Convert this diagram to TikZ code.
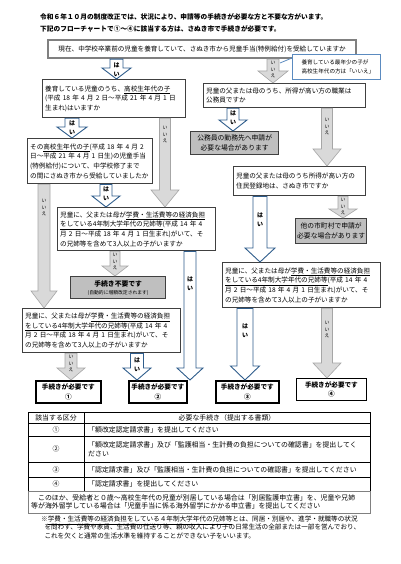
\documentclass[tikz,border=0pt]{standalone}
\usepackage{fontspec}
\setmainfont{Noto Sans CJK JP}
\usetikzlibrary{calc}
\definecolor{bluel}{HTML}{2F5D8C}
\definecolor{grayf}{HTML}{D9D9D9}
\definecolor{grayd}{HTML}{A6A6A6}
\definecolor{boxf}{HTML}{BFBFBF}
\definecolor{bord}{HTML}{404040}
\definecolor{callb}{HTML}{5B8BC0}
\newcommand\fs[2]{\fontsize{#1}{#2}\selectfont}
\newcommand\flowarrow[9]{%
  \path[#1] let \p1=(#3.south), \p2=(#4.north) in
    ({(#2-#5)*1pt},{\y1}) -- ({(#2+#5)*1pt},{\y1}) -- ({(#2+#5)*1pt},{\y2+#7pt})
    -- ({(#2+#6)*1pt},{\y2+#7pt}) -- ({#2*1pt},{\y2}) -- ({(#2-#6)*1pt},{\y2+#7pt})
    -- ({(#2-#5)*1pt},{\y2+#7pt}) -- cycle
    ({#2*1pt},{\y1-#8pt}) node[#1lbl] {#9};
}
\tikzset{
  qbox/.style={draw=bord, line width=1.3pt, fill=white, anchor=north west, align=left,
    inner xsep=2.5pt, inner ysep=1pt, font=\fs{6.6}{9.6}},
  topbox/.style={draw=gray, line width=2.2pt, fill=white, anchor=north west, align=center,
    inner sep=1pt, font=\fs{6.6}{9.6}},
  graybox/.style={draw=bord, line width=1.3pt, fill=boxf, anchor=north west, align=center,
    inner sep=1pt, font=\fs{6.8}{10}},
  resbox/.style={draw=black, line width=1.6pt, fill=white, anchor=north west, inner sep=0pt},
  restext/.style={font=\bfseries\fs{6.6}{8}, inner sep=0pt},
  callbox/.style={draw=callb, line width=0.8pt, fill=white, anchor=north west, align=left,
    inner sep=2pt, font=\fs{5.6}{9.5}},
  barrow/.style={draw=bluel, line width=0.9pt, fill=white, line join=miter},
  garrow/.style={draw=grayd, line width=0.6pt, fill=grayf},
  barrowlbl/.style={font=\bfseries\fs{6}{9.5}, align=center, inner sep=0pt, anchor=north},
  garrowlbl/.style={font=\fs{4.8}{6.2}, align=center, inner sep=0pt, anchor=north},
  tline/.style={draw=black, line width=0.5pt},
  ttext/.style={font=\fs{6.9}{9.5}, inner sep=0pt, align=left},
}
\begin{document}
\begin{tikzpicture}[x=1pt,y=-1pt]
\useasboundingbox[fill=white] (0,0) rectangle (400,564);

% title
\node[anchor=west, inner sep=0pt, font=\bfseries\fs{6.7}{9}] (t1) at (40,17)
  {令和６年１０月の制度改正では、状況により、申請等の手続きが必要な方と不要な方がいます。};
\node[anchor=west, inner sep=0pt, font=\bfseries\fs{6.7}{9}] (t2) at (40,29)
  {下記のフローチャートで①～④に該当する方は、さぬき市で手続きが必要です。};

% boxes
\node[topbox, minimum width=308pt, minimum height=18pt] (b1) at (47,39)
  {現在、中学校卒業前の児童を養育していて、さぬき市から児童手当(特例給付)を受給していますか};
\node[qbox, minimum width=143pt, minimum height=38pt, text width=138pt] (b2) at (42,79)
  {養育している児童のうち、\underline{高校生年代の子}\\(平成 18 年 4 月 2 日～平成 21 年 4 月 1 日\\生まれ)はいますか};
\node[qbox, minimum width=162pt, minimum height=24pt, text width=157pt] (r1) at (203,83)
  {児童の父または母のうち、所得が高い方の職業は\\公務員ですか};
\node[graybox, minimum width=88pt, minimum height=23pt] (gov) at (190,131)
  {公務員の勤務先へ申請が\\必要な場合があります};
\node[qbox, minimum width=125pt, minimum height=45pt, text width=120pt] (b3) at (27,138)
  {その\underline{高校生年代の子}(平成 18 年 4 月 2\\日～平成 21 年 4 月 1 日生)の児童手当\\(特例給付)について、中学校修了まで\\の間にさぬき市から受給していましたか};
\node[qbox, minimum width=132pt, minimum height=29pt, text width=127pt] (r2) at (233,166)
  {児童の父または母のうち所得が高い方の\\住民登録地は、さぬき市ですか};
\node[qbox, minimum width=158pt, minimum height=43pt, text width=153pt] (b4) at (57,207)
  {児童に、父または母が\underline{学費・生活費等の経済負担}\\\underline{をしている4年制大学年代の兄姉等}(平成 14 年 4\\月 2 日～平成 18 年 4 月 1 日生まれ)がいて、そ\\の兄姉等を含めて3人以上の子がいますか};
\node[graybox, minimum width=71pt, minimum height=25pt] (oth) at (295,218)
  {他の市町村で申請が\\必要な場合があります};
\node[qbox, minimum width=158pt, minimum height=45pt, text width=153pt] (r4) at (222,262)
  {児童に、父または母が\underline{学費・生活費等の経済負担}\\\underline{をしている4年制大学年代の兄姉等}(平成 14 年 4\\月 2 日～平成 18 年 4 月 1 日生まれ)がいて、そ\\の兄姉等を含めて3人以上の子がいますか};
\node[graybox, minimum width=95pt, minimum height=22pt] (fy) at (70,276) {};
\node[restext, font=\bfseries\fs{6.8}{8}] (fyt) at ($(fy.center)+(0,-4)$) {手続き不要です};
\node[inner sep=0pt, font=\fs{4.8}{6}] (fys) at ($(fy.center)+(0,5.5)$) {(自動的に増額改定されます)};
\node[qbox, minimum width=158pt, minimum height=44pt, text width=153pt] (b5) at (22,308)
  {児童に、父または母が\underline{学費・生活費等の経済負担}\\\underline{をしている4年制大学年代の兄姉等}(平成 14 年 4\\月 2 日～平成 18 年 4 月 1 日生まれ)がいて、そ\\の兄姉等を含めて3人以上の子がいますか};

\node[resbox, minimum width=65pt, minimum height=22pt] (res1) at (35,380) {};
\node[resbox, minimum width=58pt, minimum height=22pt] (res2) at (128,380) {};
\node[resbox, minimum width=63pt, minimum height=22pt] (res3) at (215,380) {};
\node[resbox, line width=0.8pt, minimum width=70pt, minimum height=22pt] (res4) at (296,378) {};
\foreach \r/\c in {res1/①,res2/②,res3/③,res4/④}{
  \node[restext] (\r a) at ($(\r.center)+(0,-4.5)$) {手続きが必要です};
  \node[restext] (\r b) at ($(\r.center)+(0,5)$) {\c};
}

% arrows
\flowarrow{barrow}{116.5}{b1}{b2}{6.5}{14.5}{11}{3}{は\\い}
\flowarrow{garrow}{273}{b1}{r1}{6}{15}{12}{2}{い\\い\\え}
\flowarrow{barrow}{72}{b2}{b3}{7}{15}{11}{2}{は\\い}
\flowarrow{garrow}{165}{b2}{b4}{5.5}{14}{17}{8}{い\\い\\え}
\flowarrow{barrow}{233}{r1}{gov}{6}{14}{11}{2}{は\\い}
\flowarrow{garrow}{327}{r1}{r2}{5.5}{14}{17}{10}{い\\い\\え}
\flowarrow{barrow}{106}{b3}{b4}{6}{14}{11}{2}{は\\い}
\flowarrow{garrow}{44}{b3}{b5}{6}{13}{17}{15}{い\\い\\え}
\flowarrow{barrow}{260}{r2}{r4}{7}{15}{14}{16}{は\\い}
\flowarrow{garrow}{343}{r2}{oth}{5}{14}{9}{2}{い\\い\\え}
\flowarrow{garrow}{115}{b4}{fy}{5}{13}{10}{2}{い\\い\\え}
\flowarrow{barrow}{190}{b4}{res2}{6}{13}{12}{25}{は\\い}
\flowarrow{garrow}{71}{b5}{res1}{6}{14}{12}{2}{い\\い\\え}
\flowarrow{barrow}{137}{b5}{res2}{6.5}{14}{12}{4}{は\\い}
\flowarrow{barrow}{245}{r4}{res3}{8}{14.5}{14}{15}{は\\い}
\flowarrow{garrow}{327}{r4}{res4}{5.5}{14}{15}{13}{い\\い\\え}

% callout
\node[callbox, minimum width=88pt, minimum height=25pt] (call) at (292,54)
  {\hspace{3pt}養育している最年少の子が\\\hspace{3pt}高校生年代の方は「いいえ」};
\coordinate (cp) at (280,63);
\draw[callb, line width=0.8pt] ($(call.north west)+(0,4)$) -- (cp);

% table
\draw[tline] (28,412) rectangle (370,491);
\foreach \yy in {423,436,462,477} \draw[tline] (28,\yy) -- (370,\yy);
\draw[tline] (84,412) -- (84,491);
\draw[draw=gray, line width=0.9pt] (28,491) rectangle (370,513);
\node[ttext] (h1) at (56,417.5) {該当する区分};
\node[ttext] (h2) at (227,417.5) {必要な手続き（提出する書類）};
\node[ttext] (k1) at (56,429.5) {①};
\node[ttext] (k2) at (56,449) {②};
\node[ttext] (k3) at (56,469.5) {③};
\node[ttext] (k4) at (56,484) {④};
\node[ttext, anchor=west] (d1) at (88,429.5) {「額改定認定請求書」を提出してください};
\node[ttext, anchor=west] (d2) at (88,449) {「額改定認定請求書」及び「監護相当・生計費の負担についての確認書」を提出してく\\ださい};
\node[ttext, anchor=west] (d3) at (88,469.5) {「認定請求書」及び「監護相当・生計費の負担についての確認書」を提出してください};
\node[ttext, anchor=west] (d4) at (88,484) {「認定請求書」を提出してください};
\node[ttext, anchor=west, font=\fs{6.9}{8.5}] (note) at (31,502)
  {\hspace{1em}このほか、受給者と０歳～高校生年代の児童が別居している場合は「別居監護申立書」を、児童や兄姉\\等が海外留学している場合は「児童手当に係る海外留学にかかる申立書」を提出してください};
\node[ttext, anchor=north west, font=\fs{6.6}{8.2}] (foot) at (41,516)
  {※\underline{学費・生活費等の経済負担をしている４年制大学年代の兄姉等}とは、同居・別居や、進学・就職等の状況\\\hspace{0.5em}を問わず、学費や家賃、生活費の仕送り等、親の収入により子の日常生活の全部または一部を営んでおり、\\\hspace{0.5em}これを欠くと通常の生活水準を維持することができない子をいいます。};
\end{tikzpicture}
\end{document}
